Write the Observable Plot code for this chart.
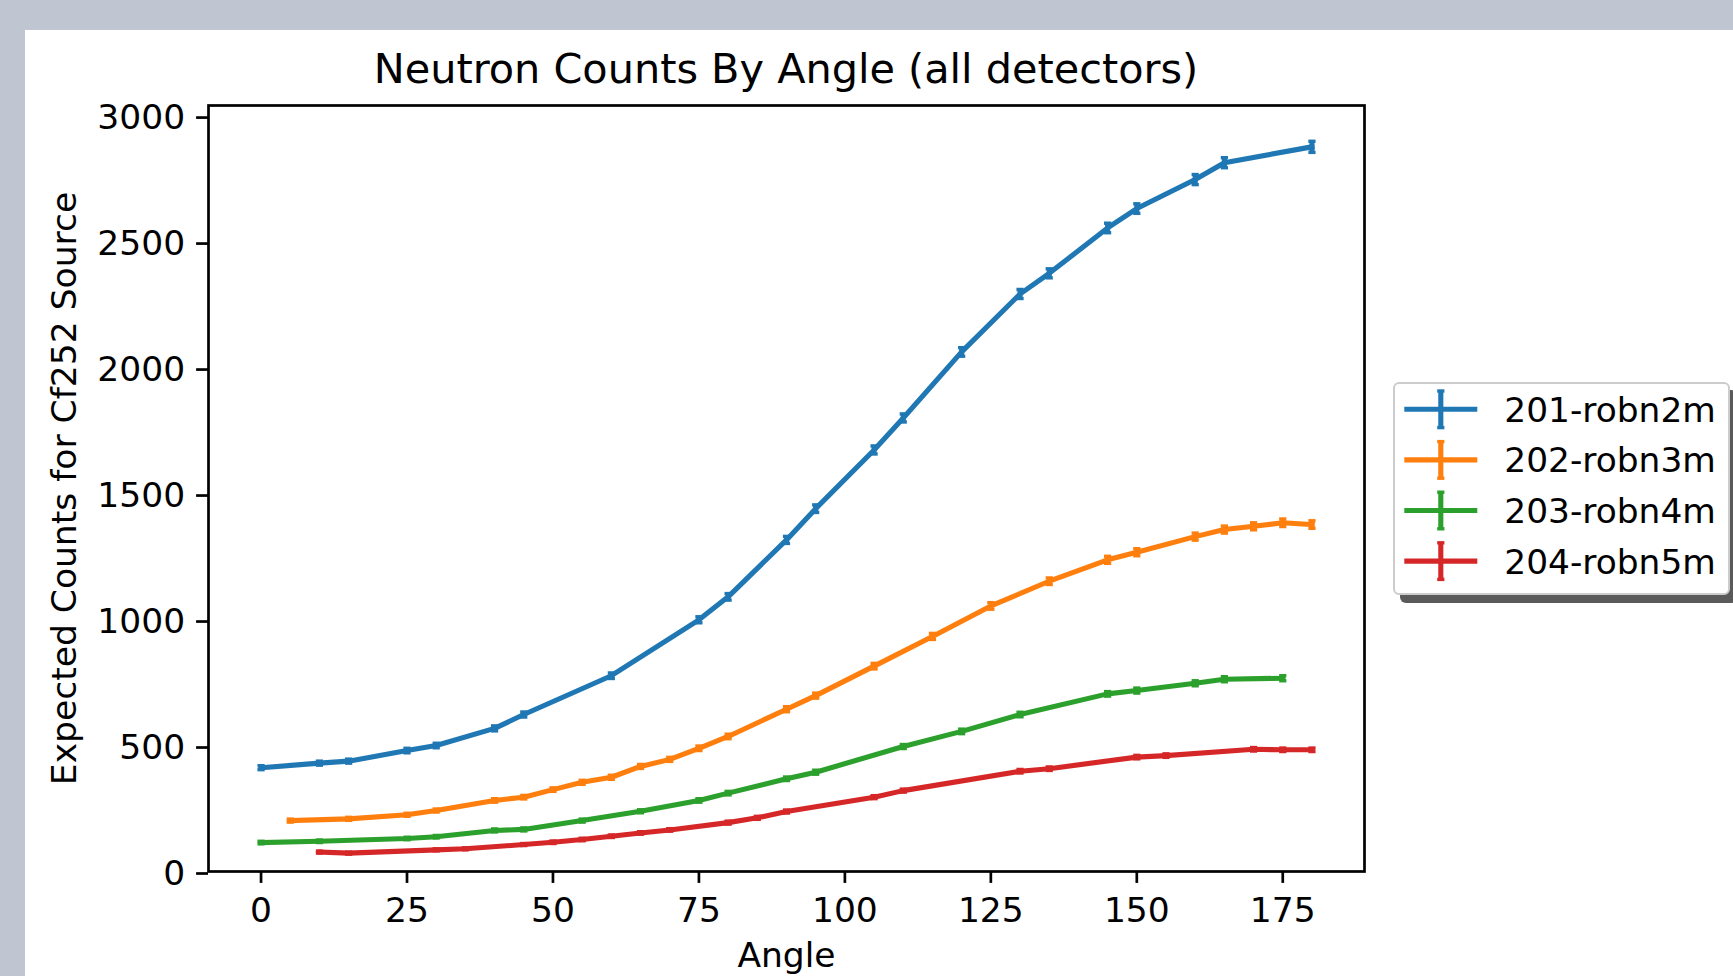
<!DOCTYPE html>
<html>
<head>
<meta charset="utf-8">
<script src="https://cdn.jsdelivr.net/npm/d3@7"></script>
<script src="https://cdn.jsdelivr.net/npm/@observablehq/plot@0.6"></script>
<style>
  html, body { margin: 0; padding: 0; }
  body { width: 1733px; height: 976px; overflow: hidden; background: #bfc5d1; position: relative; font-family: "DejaVu Sans", sans-serif; }
  #panel { position: absolute; left: 25px; top: 30px; width: 1708px; height: 946px; background: #ffffff; overflow: hidden; }
  #chart { position: absolute; left: 0; top: 0; width: 1708px; height: 946px; }
  #chart svg { overflow: visible; }
  #title { position: absolute; left: 0; top: 18.5px; width: 1522px; text-align: center; font-size: 41.4px; line-height: 1; color: #000; white-space: nowrap; }
  #legend { position: absolute; left: 1367.7px; top: 351.7px; width: 337px; height: 213px; box-sizing: border-box; background: #fff; border: 2.7px solid #cccccc; border-radius: 6px; box-shadow: 7px 8px 0 #5a5a5a; }
  #legend svg { position: absolute; left: -2.7px; top: -2.7px; overflow: visible; }
</style>
</head>
<body>
<div id="panel">
  <div id="chart"></div>
  <div id="title">Neutron Counts By Angle (all detectors)</div>
  <div id="legend"></div>
</div>
<script>
// ---- data ----
const seriesNames = ["201-robn2m", "202-robn3m", "203-robn4m", "204-robn5m"];
const seriesColors = ["#1f77b4", "#ff7f0e", "#2ca02c", "#d62728"];

const angles201 = [0, 10, 15, 25, 30, 40, 45, 60, 75, 80, 90, 95, 105, 110, 120, 130, 135, 145, 150, 160, 165, 180];
const counts201 = [412, 430, 438, 480, 500, 568, 623, 777, 999, 1090, 1316, 1440, 1673, 1800, 2062, 2292, 2374, 2554, 2631, 2746, 2813, 2876];
const errors201 = [8, 8, 8, 9, 9, 10, 10, 11, 12, 13, 14, 15, 16, 16, 17, 18, 18, 19, 19, 20, 20, 22];

const angles202 = [5, 15, 25, 30, 40, 45, 50, 55, 60, 65, 70, 75, 80, 90, 95, 105, 115, 125, 135, 145, 150, 160, 165, 170, 175, 180];
const counts202 = [202, 209, 225, 242, 282, 295, 325, 354, 374, 417, 445, 489, 536, 644, 698, 815, 933, 1054, 1152, 1237, 1267, 1329, 1357, 1370, 1384, 1377];
const errors202 = [6, 6, 6, 6, 7, 7, 7, 8, 8, 8, 8, 9, 9, 10, 10, 11, 12, 13, 13, 14, 14, 14, 14, 14, 15, 15];

const angles203 = [0, 10, 25, 30, 40, 45, 55, 65, 75, 80, 90, 95, 110, 120, 130, 145, 150, 160, 165, 175];
const counts203 = [115, 120, 131, 138, 163, 167, 202, 239, 282, 311, 368, 394, 496, 556, 623, 705, 718, 747, 763, 767];
const errors203 = [5, 5, 5, 5, 6, 6, 6, 6, 7, 7, 7, 8, 8, 9, 9, 9, 10, 10, 10, 10];

const angles204 = [10, 15, 30, 35, 45, 50, 55, 60, 65, 70, 80, 85, 90, 105, 110, 130, 135, 150, 155, 170, 175, 180];
const counts204 = [77, 73, 86, 90, 107, 116, 127, 140, 153, 165, 194, 213, 238, 295, 321, 398, 408, 454, 460, 485, 483, 483];
const errors204 = [4, 4, 4, 4, 4, 5, 5, 5, 5, 5, 6, 6, 6, 6, 6, 7, 7, 7, 7, 7, 7, 7];

const xTicks = [0, 25, 50, 75, 100, 125, 150, 175];
const yTicks = [0, 500, 1000, 1500, 2000, 2500, 3000];

// ---- build tables ----
const seriesAngles = [angles201, angles202, angles203, angles204];
const seriesCounts = [counts201, counts202, counts203, counts204];
const seriesErrors = [errors201, errors202, errors203, errors204];

const tables = seriesNames.map((name, s) =>
  seriesAngles[s].map((a, i) => ({
    series: name,
    angle: a,
    count: seriesCounts[s][i],
    lo: seriesCounts[s][i] - seriesErrors[s][i],
    hi: seriesCounts[s][i] + seriesErrors[s][i]
  }))
);

const capSymbol = {
  draw(ctx, size) {
    const r = Math.sqrt(size / Math.PI);
    ctx.moveTo(-r, 0);
    ctx.lineTo(r, 0);
  }
};

const seriesMarks = tables.flatMap((rows, s) => [
  Plot.line(rows, {x: "angle", y: "count", stroke: seriesColors[s], strokeWidth: 5.1, strokeLinejoin: "round", strokeLinecap: "square"}),
  Plot.ruleX(rows, {x: "angle", y1: "lo", y2: "hi", stroke: seriesColors[s], strokeWidth: 5.1}),
  Plot.dot(rows, {x: "angle", y: "lo", symbol: capSymbol, r: 3.6, stroke: seriesColors[s], strokeWidth: 3.4, fill: "none"}),
  Plot.dot(rows, {x: "angle", y: "hi", symbol: capSymbol, r: 3.6, stroke: seriesColors[s], strokeWidth: 3.4, fill: "none"})
]);

const chart = Plot.plot({
  width: 1708,
  height: 946,
  marginLeft: 183,
  marginTop: 75,
  marginRight: 369,
  marginBottom: 105,
  x: {domain: [-9, 189]},
  y: {domain: [0, 3040]},
  style: {fontFamily: "'DejaVu Sans', sans-serif", fontSize: "34.5px", color: "#000", background: "transparent", overflow: "visible"},
  marks: [
    ...seriesMarks,
    Plot.frame({stroke: "#000", strokeWidth: 2.7}),
    Plot.axisX({
      ticks: xTicks, tickFormat: d => String(d), tickSize: 11.9, tickPadding: 14.3,
      strokeWidth: 2.7, fontSize: 34.5,
      label: "Angle", labelAnchor: "center", labelOffset: 95, labelArrow: "none"
    }),
    Plot.axisY({
      ticks: yTicks, tickFormat: d => String(d), tickSize: 11.9, tickPadding: 11.5,
      strokeWidth: 2.7, fontSize: 34.5, dy: 2,
      label: "Expected Counts for Cf252 Source", labelAnchor: "center", labelOffset: 157, labelArrow: "none"
    })
  ]
});
document.getElementById("chart").appendChild(chart);

// ---- legend ----
const ns = "http://www.w3.org/2000/svg";
const lg = document.createElementNS(ns, "svg");
lg.setAttribute("width", 337);
lg.setAttribute("height", 213);
seriesNames.forEach((name, i) => {
  const cy = 28.3 + 50.6 * i;
  const mk = (tag, attrs) => {
    const el = document.createElementNS(ns, tag);
    for (const k in attrs) el.setAttribute(k, attrs[k]);
    lg.appendChild(el);
    return el;
  };
  mk("line", {x1: 12.3, x2: 85.3, y1: cy, y2: cy, stroke: seriesColors[i], "stroke-width": 5.1});
  mk("line", {x1: 48.8, x2: 48.8, y1: cy - 18.3, y2: cy + 18.3, stroke: seriesColors[i], "stroke-width": 5.1});
  mk("line", {x1: 45.2, x2: 52.4, y1: cy - 18.3, y2: cy - 18.3, stroke: seriesColors[i], "stroke-width": 3.4});
  mk("line", {x1: 45.2, x2: 52.4, y1: cy + 18.3, y2: cy + 18.3, stroke: seriesColors[i], "stroke-width": 3.4});
  const t = mk("text", {x: 112.3, y: cy + 12.5, "font-family": "'DejaVu Sans', sans-serif", "font-size": 34.4, fill: "#000"});
  t.textContent = name;
});
document.getElementById("legend").appendChild(lg);
</script>
</body>
</html>
